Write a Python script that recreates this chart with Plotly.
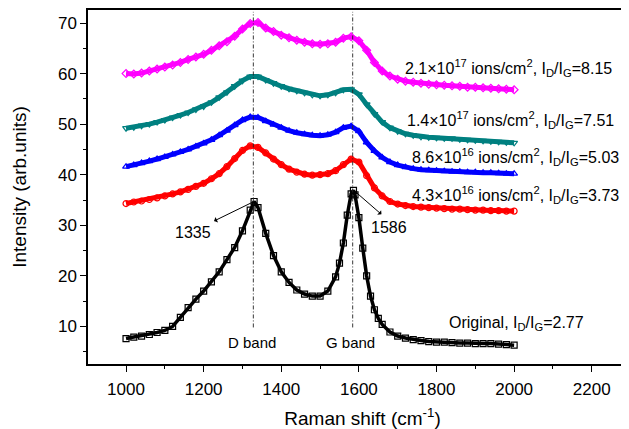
import plotly.graph_objects as go

# Raman shift grid (cm^-1) for the ion-irradiated spectra
x_ion = [1000, 1020, 1040, 1060, 1080, 1100, 1120, 1140, 1160, 1180, 1200, 1220, 1240, 1260, 1280,
         1300, 1320, 1340, 1360, 1380, 1400, 1420, 1440, 1460, 1480, 1500, 1520, 1540, 1560, 1580,
         1600, 1620, 1640, 1660, 1680, 1700, 1720, 1740, 1760, 1780, 1800, 1820, 1840, 1860, 1880,
         1900, 1920, 1940, 1960, 1980, 2000]

y_21e17 = [60.0, 59.9, 60.1, 60.5, 60.9, 61.3, 61.7, 62.2, 62.8, 63.3, 63.8, 64.6, 65.5, 66.3, 67.4,
           68.8, 69.9, 70.1, 69.0, 68.3, 67.6, 67.1, 66.6, 66.2, 65.9, 65.8, 65.9, 66.2, 67.0, 67.3,
           66.5, 64.6, 62.2, 60.5, 59.5, 58.9, 58.5, 58.3, 58.1, 57.9, 57.8, 57.7, 57.6, 57.5, 57.3,
           57.3, 57.2, 57.1, 57.0, 56.9, 56.8]

y_14e17 = [49.2, 49.4, 49.7, 50.0, 50.4, 50.8, 51.3, 51.8, 52.3, 52.9, 53.5, 54.3, 55.3, 56.3, 57.5,
           58.6, 59.4, 59.4, 58.7, 58.1, 57.5, 57.0, 56.6, 56.2, 55.8, 55.6, 55.8, 56.2, 56.8, 56.9,
           55.9, 53.9, 52.0, 50.4, 49.3, 48.6, 48.1, 47.8, 47.5, 47.4, 47.3, 47.2, 47.2, 47.0, 46.9,
           46.8, 46.7, 46.6, 46.5, 46.4, 46.3]

y_86e16 = [41.6, 41.9, 42.3, 42.7, 43.1, 43.5, 44.0, 44.5, 45.0, 45.6, 46.2, 46.9, 47.8, 48.7, 49.8,
           50.8, 51.4, 51.3, 50.6, 49.9, 49.3, 48.7, 48.3, 48.0, 47.8, 47.7, 47.9, 48.4, 49.3, 49.6,
           48.6, 46.4, 44.7, 43.4, 42.5, 41.9, 41.5, 41.2, 41.0, 40.9, 40.8, 40.7, 40.6, 40.6, 40.5,
           40.5, 40.4, 40.4, 40.3, 40.2, 40.2]

y_43e16 = [34.3, 34.6, 34.8, 35.1, 35.4, 35.8, 36.2, 36.6, 37.1, 37.7, 38.3, 39.2, 40.2, 41.6, 43.2,
           44.8, 45.7, 45.4, 44.3, 43.1, 42.0, 41.1, 40.5, 40.1, 39.9, 40.0, 40.2, 40.8, 42.0, 43.1,
           42.5, 39.8, 37.4, 35.8, 34.7, 34.2, 33.9, 33.7, 33.6, 33.5, 33.4, 33.3, 33.2, 33.2, 33.1,
           33.0, 33.0, 32.9, 32.9, 32.8, 32.8]

# Original (unirradiated) spectrum
x_orig = [1000, 1020, 1040, 1060, 1080, 1100, 1120, 1140, 1160, 1180, 1200, 1220, 1240, 1260, 1280,
          1300, 1320, 1330, 1340, 1360, 1380, 1400, 1420, 1440, 1460, 1480, 1500, 1520, 1540, 1550,
          1560, 1570, 1580, 1586, 1590, 1600, 1610, 1620, 1630, 1640, 1650, 1660, 1680, 1700, 1720,
          1740, 1760, 1780, 1800, 1820, 1840, 1860, 1880, 1900, 1920, 1940, 1960, 1980, 2000]
y_orig = [7.6, 7.9, 8.1, 8.4, 8.8, 9.2, 10.0, 11.8, 13.7, 15.4, 17.0, 18.8, 20.8, 23.2, 25.6,
          28.9, 33.0, 34.7, 33.5, 28.4, 24.0, 20.8, 18.7, 17.2, 16.4, 16.0, 16.0, 17.0, 19.8, 22.5,
          26.5, 32.0, 36.2, 36.9, 36.0, 31.5, 25.5, 20.0, 16.0, 13.3, 11.6, 10.4, 8.9, 8.1, 7.7,
          7.4, 7.2, 7.0, 6.9, 6.9, 6.8, 6.7, 6.7, 6.6, 6.6, 6.6, 6.5, 6.4, 6.3]

x_ticks = [1000, 1200, 1400, 1600, 1800, 2000, 2200]
y_ticks = [10, 20, 30, 40, 50, 60, 70]

labels = [
    "2.1×10<sup>17</sup> ions/cm<sup>2</sup>, I<sub>D</sub>/I<sub>G</sub>=8.15",
    "1.4×10<sup>17</sup> ions/cm<sup>2</sup>, I<sub>D</sub>/I<sub>G</sub>=7.51",
    "8.6×10<sup>16</sup> ions/cm<sup>2</sup>, I<sub>D</sub>/I<sub>G</sub>=5.03",
    "4.3×10<sup>16</sup> ions/cm<sup>2</sup>, I<sub>D</sub>/I<sub>G</sub>=3.73",
    "Original, I<sub>D</sub>/I<sub>G</sub>=2.77",
]
label_x = [1713, 1719, 1732, 1732, 1826]
label_y = [61.1, 50.8, 43.5, 36.0, 10.5]

band_x = [1328, 1584]
band_names = ["D band", "G band"]
peak_names = ["1335", "1586"]

FONT = "Arial, Liberation Sans, sans-serif"

series = [
    (x_orig, y_orig, "black", "square-open", 3.5, 6),
    (x_ion, y_43e16, "#ff0000", "circle-open", 5, 6),
    (x_ion, y_86e16, "#0000ff", "triangle-up-open", 5, 6),
    (x_ion, y_14e17, "#008080", "triangle-down-open", 5, 6),
    (x_ion, y_21e17, "#ff00ff", "diamond-open", 5, 6),
]

fig = go.Figure()
for xs, ys, col, sym, lw, ms in series:
    fig.add_trace(go.Scatter(
        x=xs, y=ys, mode="lines+markers",
        line=dict(color=col, width=lw),
        marker=dict(symbol=sym, size=ms, color=col, line=dict(width=1.2, color=col)),
        showlegend=False,
    ))

shapes = []
for bx in band_x:
    shapes.append(dict(type="line", xref="x", yref="y", x0=bx, x1=bx, y0=9.8, y1=72.2,
                       line=dict(color="#222222", width=0.9, dash="4px,2px,1px,2px"), layer="above"))

ann = []
for t, lx, ly in zip(labels, label_x, label_y):
    ann.append(dict(x=lx, y=ly, xref="x", yref="y", text=t, showarrow=False,
                    xanchor="left", yanchor="middle", font=dict(family=FONT, size=16, color="black")))
for bx, bn in zip([1325, 1579], band_names):
    ann.append(dict(x=bx, y=6.8, xref="x", yref="y", text=bn, showarrow=False,
                    xanchor="center", yanchor="middle", font=dict(family=FONT, size=15, color="black")))
# arrows (head away from peak)
ann.append(dict(x=1327, y=34.6, ax=1223, ay=30.7, xref="x", yref="y", axref="x", ayref="y",
                text="", showarrow=True, arrowside="start", arrowhead=2, arrowsize=1,
                arrowwidth=1, arrowcolor="black", standoff=0, startstandoff=0))
ann.append(dict(x=1590, y=36.7, ax=1662, ay=31.9, xref="x", yref="y", axref="x", ayref="y",
                text="", showarrow=True, arrowside="start", arrowhead=2, arrowsize=1,
                arrowwidth=1, arrowcolor="black", standoff=0, startstandoff=0))
ann.append(dict(x=1172, y=28.6, xref="x", yref="y", text=peak_names[0], showarrow=False,
                font=dict(family=FONT, size=16, color="black")))
ann.append(dict(x=1678, y=29.6, xref="x", yref="y", text=peak_names[1], showarrow=False,
                font=dict(family=FONT, size=16, color="black")))

fig.update_layout(
    width=629, height=429,
    margin=dict(l=80, r=0, t=2, b=73),
    paper_bgcolor="white", plot_bgcolor="white",
    font=dict(family=FONT, size=17, color="black"),
    annotations=ann, shapes=shapes,
    xaxis=dict(range=[902, 2316.6], tickvals=x_ticks, ticks="outside", ticklen=6, tickwidth=1.2,
               tickcolor="black", showline=True, mirror=True, linecolor="black", linewidth=1.5,
               showgrid=False, zeroline=False, ticklabelstandoff=3,
               minor=dict(dtick=100, tick0=1000, ticks="outside", ticklen=3, tickcolor="black", tickwidth=1.2),
               title=dict(text="Raman shift (cm<sup>-1</sup>)", font=dict(size=19), standoff=14),
               tickfont=dict(size=17)),
    yaxis=dict(range=[2.57, 72.57], tickvals=y_ticks, ticks="outside", ticklen=6, tickwidth=1.2,
               tickcolor="black", showline=True, mirror=False, linecolor="black", linewidth=1.5,
               showgrid=False, zeroline=False,
               minor=dict(dtick=5, tick0=0, ticks="outside", ticklen=3, tickcolor="black", tickwidth=1.2),
               title=dict(text="Intensity (arb.units)", font=dict(size=19), standoff=26),
               tickfont=dict(size=17)),
)

fig.write_html("out.html")
